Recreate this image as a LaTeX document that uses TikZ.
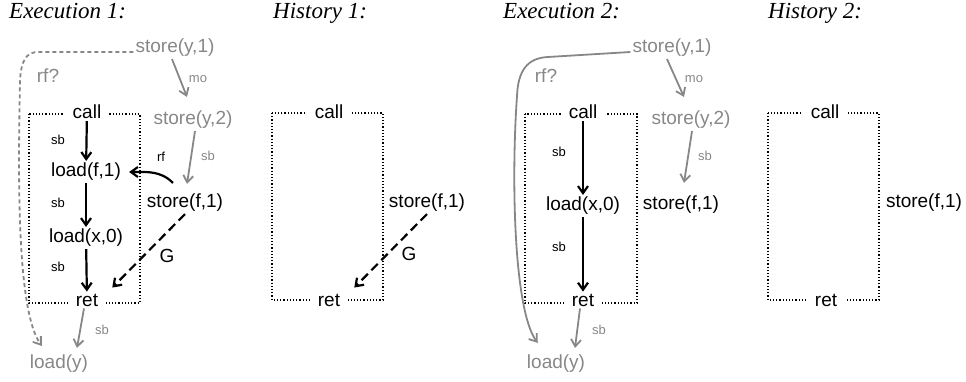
\documentclass[tikz,border=0pt]{standalone}
\usepackage{fontspec}
\setmainfont{Liberation Serif}
\setsansfont{Liberation Sans}
\usetikzlibrary{arrows.meta}
\definecolor{evgrey}{gray}{0.53}
\tikzset{
  ev/.style={font=\sffamily\fontsize{19}{22}\selectfont, inner sep=2pt},
  gev/.style={ev, text=evgrey},
  port/.style={ev, fill=white, inner xsep=8pt},
  lab/.style={font=\sffamily\fontsize{13}{15}\selectfont, inner sep=1pt},
  glab/.style={lab, text=evgrey},
  title/.style={font=\itshape\fontsize{23}{26}\selectfont, anchor=base west, inner sep=0pt},
  sbarrow/.style={-{Straight Barb[length=7pt,width=10pt]}, line width=2.2pt},
  garrow/.style={-{Straight Barb[length=7pt,width=10pt]}, line width=1.8pt, draw=evgrey},
  dotbox/.style={line width=1.3pt, dash pattern=on 1.2pt off 2pt},
}
\begin{document}
\begin{tikzpicture}[x=1pt,y=1pt]
        \useasboundingbox (0,0) rectangle (966,381);

        % Titles
        \node[title] (tea) at (9,362) {Execution 1:};
        \node[title] (tha) at (273,362) {History 1:};
        \node[title] (teb) at (503,362) {Execution 2:};
        \node[title] (thb) at (768,362) {History 2:};

        % Execution 1
        \draw[dotbox] (29,267) rectangle (140,78);
        \node[gev] (s1a) at (175,333) {store(y,1)};
        \node[gev] (s2a) at (193,261) {store(y,2)};
        \node[ev] (sfa) at (185,178) {store(f,1)};
        \node[port] (ca) at (87,269) {call};
        \node[ev] (lfa) at (86,209) {load(f,1)};
        \node[ev] (lxa) at (86,143) {load(x,0)};
        \node[port] (ra) at (87,81) {ret};
        \node[gev] (lya) at (59,17) {load(y)};

        \draw[sbarrow] (ca) -- (lfa);
        \draw[sbarrow] (lfa) -- (lxa);
        \draw[sbarrow] (lxa) -- (ra);
        \draw[sbarrow] ([shift={(-12pt,9pt)}]sfa.north) to[out=135,in=0] ([xshift=6pt]lfa.east);
        \draw[garrow] ([xshift=-3pt]s1a.south) -- ([shift={(-6pt,12pt)}]s2a.north);
        \draw[garrow] ([xshift=2pt]s2a.south) -- ([shift={(2pt,8pt)}]sfa.north);
        \draw[garrow] ([xshift=-3pt]ra.south) -- ([shift={(18pt,5pt)}]lya.north);
        \draw[sbarrow, dash pattern=on 9pt off 5pt] (sfa.south) -- ([shift={(6pt,4pt)}]ra.north east);
        \draw[garrow, dash pattern=on 4pt off 3pt] ([yshift=-4pt]s1a.west) -- (38,329)
            .. controls (26,329) and (21,320) .. (20,300)
            .. controls (18,200) and (17,70) .. ([shift={(14pt,7pt)}]lya.north west);

        \node[glab] (moa) at (198,302) {mo};
        \node[lab] (sba) at (58,241) {sb};
        \node[lab] (sbb) at (58,178) {sb};
        \node[lab] (sbc) at (58,114) {sb};
        \node[lab] (rfa) at (161,224) {rf};
        \node[glab] (sbd) at (208,225) {sb};
        \node[glab] (sbe) at (102,51) {sb};
        \node[ev] (ga) at (167,125) {G};
        \node[gev] (rqa) at (48,305) {rf?};

        % History 1
        \draw[dotbox] (272,268) rectangle (383,81);
        \node[port] (cha) at (329,269) {call};
        \node[port] (rha) at (329,81) {ret};
        \node[ev] (sfha) at (427,178) {store(f,1)};
        \draw[sbarrow, dash pattern=on 9pt off 5pt] (sfha.south) -- ([shift={(6pt,4pt)}]rha.north east);
        \node[ev] (gha) at (409,127) {G};

        % Execution 2
        \draw[dotbox] (525,267) rectangle (637,78);
        \node[gev] (s1b) at (672,333) {store(y,1)};
        \node[gev] (s2b) at (691,261) {store(y,2)};
        \node[ev] (sfb) at (681,176) {store(f,1)};
        \node[port] (cb) at (583,269) {call};
        \node[ev] (lxb) at (583,175) {load(x,0)};
        \node[port] (rb) at (583,81) {ret};
        \node[gev] (lyb) at (556,17) {load(y)};

        \draw[sbarrow] (cb) -- (lxb);
        \draw[sbarrow] (lxb) -- (rb);
        \draw[garrow] ([xshift=-5pt]s1b.south) -- ([shift={(-7pt,12pt)}]s2b.north);
        \draw[garrow] ([xshift=1pt]s2b.south) -- ([shift={(3pt,11pt)}]sfb.north);
        \draw[garrow] ([xshift=-3pt]rb.south) -- ([shift={(19pt,5pt)}]lyb.north);
        \draw[garrow] ([yshift=-4pt]s1b.west) -- (548,324)
            .. controls (527,323) and (518,310) .. (517,285)
            .. controls (511,200) and (514,70) .. ([shift={(13pt,10pt)}]lyb.north west);

        \node[glab] (mob) at (694,302) {mo};
        \node[lab] (sbf) at (559,229) {sb};
        \node[lab] (sbg) at (559,134) {sb};
        \node[glab] (sbh) at (705,225) {sb};
        \node[glab] (sbi) at (599,51) {sb};
        \node[gev] (rqb) at (546,305) {rf?};

        % History 2
        \draw[dotbox] (768,268) rectangle (879,81);
        \node[port] (chb) at (825,269) {call};
        \node[port] (rhb) at (826,81) {ret};
        \node[ev] (sfhb) at (924,178) {store(f,1)};
    \end{tikzpicture}
\end{document}
